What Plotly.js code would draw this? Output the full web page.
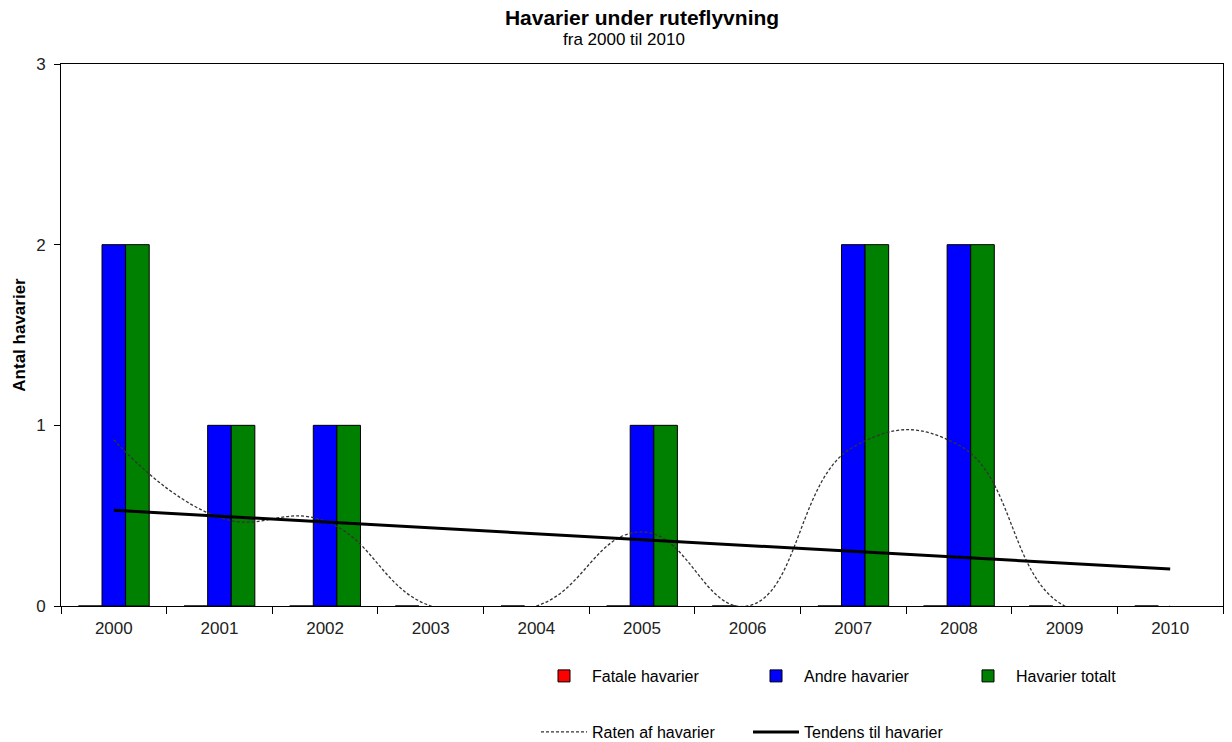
<!DOCTYPE html>
<html>
<head>
<meta charset="utf-8">
<script src="https://cdn.plot.ly/plotly-3.0.1.min.js"></script>
<style>
  html, body { margin: 0; padding: 0; background: #fff; }
  #chart { width: 1232px; height: 742px; }
</style>
</head>
<body>
<div id="chart"></div>
<script>
// Ruteflyvning: havarier pr. år
const years = ['2000','2001','2002','2003','2004','2005','2006','2007','2008','2009','2010'];
const fatale = [0, 0, 0, 0, 0, 0, 0, 0, 0, 0, 0];
const andre  = [2, 1, 1, 0, 0, 1, 0, 2, 2, 0, 0];
const totalt = [2, 1, 1, 0, 0, 1, 0, 2, 2, 0, 0];
const raten  = [0.92, 0.49, 0.47, 0, 0, 0.41, 0, 0.88, 0.89, 0, 0];
const tendensYears = ['2000', '2010'];
const tendens = [0.53, 0.205];

const FONT = '"Liberation Sans", Arial, sans-serif';
// outline only on bars that have a height, so empty years stay clean
const outline = vals => ({ color: '#000', width: vals.map(v => (v > 0 ? 1 : 0)) });

const traces = [
  { type: 'bar', name: 'Fatale havarier', x: years, y: fatale,
    marker: { color: '#ff0000', line: { color: '#000', width: 1 } }, legend: 'legend' },
  { type: 'bar', name: 'Andre havarier', x: years, y: andre,
    marker: { color: '#0000ff', line: outline(andre) }, legend: 'legend' },
  { type: 'bar', name: 'Havarier totalt', x: years, y: totalt,
    marker: { color: '#008000', line: outline(totalt) }, legend: 'legend' },
  { type: 'scatter', mode: 'lines', name: 'Raten af havarier', x: years, y: raten,
    line: { color: '#333', width: 1.3, dash: '3px,2px', shape: 'spline', smoothing: 1.3 },
    legend: 'legend2' },
  { type: 'scatter', mode: 'lines', name: 'Tendens til havarier', x: tendensYears, y: tendens,
    line: { color: '#000', width: 3 }, legend: 'legend2' }
];

const legendCommon = {
  orientation: 'h', xanchor: 'left', yanchor: 'middle',
  font: { family: FONT, size: 16, color: '#000' },
  itemwidth: 46,
  entrywidth: 151, entrywidthmode: 'pixels',
  bgcolor: 'rgba(0,0,0,0)', traceorder: 'normal', itemclick: false
};

const layout = {
  width: 1232, height: 742,
  margin: { l: 61, r: 9, t: 64, b: 136, autoexpand: false },
  paper_bgcolor: '#fff', plot_bgcolor: '#fff',
  font: { family: FONT, size: 17, color: '#222' },
  title: {
    text: '<b>Havarier under ruteflyvning</b>',
    font: { family: FONT, size: 21, color: '#000' },
    x: 0.5, xref: 'paper', xanchor: 'center',
    y: 1 - 18 / 742, yref: 'container', yanchor: 'middle'
  },
  annotations: [{
    text: 'fra 2000 til 2010', xref: 'paper', yref: 'paper',
    x: 0.4845, y: 1 + (64 - 40) / 542, xanchor: 'center', yanchor: 'middle',
    showarrow: false, font: { family: FONT, size: 17, color: '#000' }
  }],
  barmode: 'group', bargap: 0.33, bargroupgap: 0,
  xaxis: {
    type: 'category', tickson: 'boundaries',
    ticks: 'outside', ticklen: 7, tickcolor: '#000', tickwidth: 1,
    ticklabelstandoff: 7,
    showline: true, linecolor: '#000', linewidth: 1, mirror: true,
    showgrid: false, zeroline: false,
    tickfont: { family: FONT, size: 17, color: '#222' }
  },
  yaxis: {
    range: [0, 3], tickvals: [0, 1, 2, 3], ticktext: ['0', '1', '2', '3'],
    ticks: 'outside', ticklen: 6, tickcolor: '#000', tickwidth: 1,
    ticklabelstandoff: 5,
    showline: true, linecolor: '#000', linewidth: 1, mirror: true,
    showgrid: false, zeroline: false,
    tickfont: { family: FONT, size: 17, color: '#222' },
    title: { text: '<b>Antal havarier</b>', font: { family: FONT, size: 17, color: '#000' }, standoff: 6 }
  },
  legend: Object.assign({}, legendCommon, { x: (536 - 61) / 1162, y: (606 - 676) / 542 }),
  legend2: Object.assign({}, legendCommon, { x: (536 - 61) / 1162, y: (606 - 732) / 542 })
};

Plotly.newPlot('chart', traces, layout, { displayModeBar: false, staticPlot: true });
</script>
</body>
</html>
